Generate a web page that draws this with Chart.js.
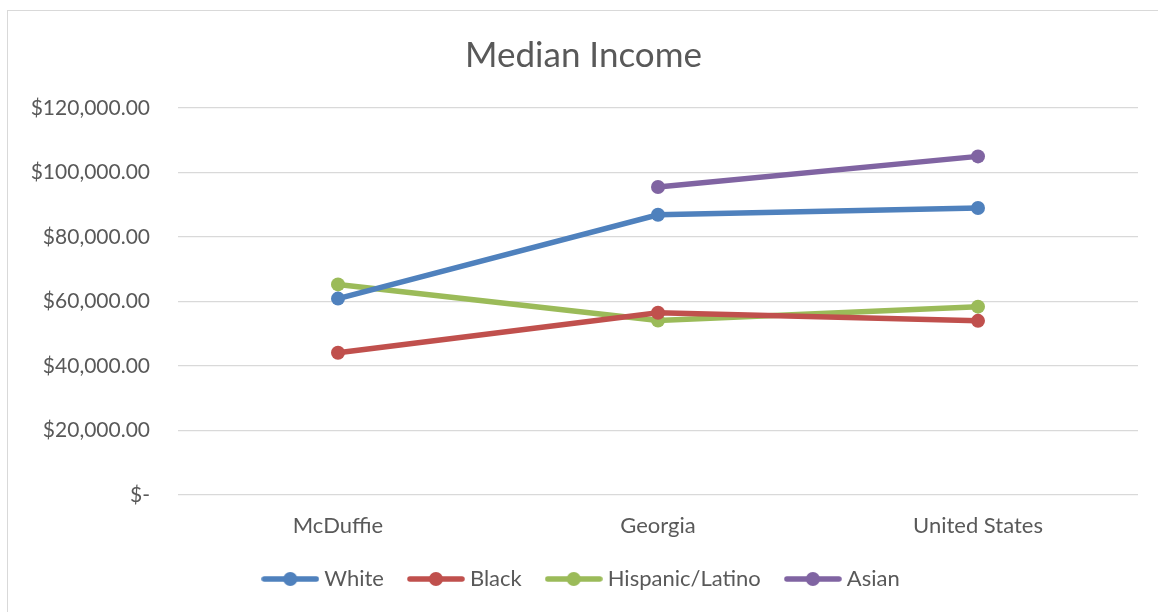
<!DOCTYPE html>
<html>
<head>
<meta charset="utf-8">
<script src="https://cdn.jsdelivr.net/npm/chart.js@4.4.0/dist/chart.umd.min.js"></script>
<style>
  html, body { margin: 0; padding: 0; background: #fff; }
  #wrap { position: relative; width: 1158px; height: 612px; overflow: hidden; }
  #frame { position: absolute; left: 7px; top: 10px; width: 1170px; height: 620px; border: 1px solid #d9d9d9; box-sizing: border-box; }
  canvas { position: absolute; left: 0; top: 0; }
</style>
</head>
<body>
<div id="wrap">
  <div id="frame"></div>
  <canvas id="c" width="1158" height="612"></canvas>
</div>
<script>
const categories = ["McDuffie", "Georgia", "United States"];
const seriesNames = ["White", "Black", "Hispanic/Latino", "Asian"];
const whiteValues = [60900, 86900, 89000];
const blackValues = [44100, 56500, 54000];
const hispanicValues = [65300, 54100, 58400];
const asianValues = [null, 95500, 105000];
const seriesColors = ["#4f81bd", "#c0504d", "#9bbb59", "#8064a2"];
const yTicks = [0, 20000, 40000, 60000, 80000, 100000, 120000];

const seriesValues = [whiteValues, blackValues, hispanicValues, asianValues];

function legendIcon(color) {
  const cv = document.createElement('canvas');
  cv.width = 58; cv.height = 16;
  const g = cv.getContext('2d');
  g.strokeStyle = color; g.lineWidth = 5.5; g.lineCap = 'round';
  g.beginPath(); g.moveTo(3, 8); g.lineTo(55, 8); g.stroke();
  g.fillStyle = color;
  g.beginPath(); g.arc(29, 8, 7, 0, Math.PI * 2); g.fill();
  return cv;
}

const fmt = v => v === 0 ? "$-" : "$" + v.toLocaleString('en-US', {minimumFractionDigits: 2, maximumFractionDigits: 2});

const FONT = "Lato, 'Open Sans', sans-serif";

new Chart(document.getElementById('c'), {
  type: 'line',
  data: {
    labels: categories,
    datasets: seriesNames.map((n, i) => ({
      label: n,
      data: seriesValues[i],
      borderColor: seriesColors[i],
      backgroundColor: seriesColors[i],
      borderWidth: 5.5,
      pointRadius: 7,
      pointHoverRadius: 7,
      pointBorderWidth: 0,
      tension: 0,
      spanGaps: false
    }))
  },
  options: {
    responsive: false,
    animation: false,
    layout: { padding: { left: 29, right: 20, top: 0, bottom: 12 } },
    plugins: {
      title: {
        display: true,
        text: "Median Income",
        color: "#595959",
        font: { family: FONT, size: 35, weight: 'normal' },
        padding: { top: 35, bottom: 31 }
      },
      legend: {
        position: 'bottom',
        labels: {
          color: "#595959",
          font: { family: FONT, size: 22 },
          usePointStyle: true,
          pointStyleWidth: 46,
          padding: 29,
          generateLabels: chart => chart.data.datasets.map((d, i) => ({
            text: d.label,
            fillStyle: d.borderColor,
            strokeStyle: d.borderColor,
            fontColor: "#595959",
            pointStyle: legendIcon(d.borderColor),
            datasetIndex: i,
            hidden: false,
            lineWidth: 0
          }))
        }
      },
      tooltip: { enabled: false }
    },
    scales: {
      x: {
        offset: true,
        grid: { display: false, drawTicks: false },
        border: { display: false },
        ticks: { color: "#595959", font: { family: FONT, size: 22 }, padding: 18 },
        afterFit: s => { s.height = 44; }
      },
      y: {
        min: 0, max: 120000,
        afterBuildTicks: s => { s.ticks = yTicks.map(v => ({ value: v })); },
        grid: { color: "#d9d9d9", lineWidth: 1.3, drawTicks: false },
        border: { display: false },
        ticks: { color: "#595959", font: { family: FONT, size: 21 }, padding: 28, callback: v => fmt(v) },
        afterFit: s => { s.width = 149; }
      }
    }
  }
});
</script>
</body>
</html>
